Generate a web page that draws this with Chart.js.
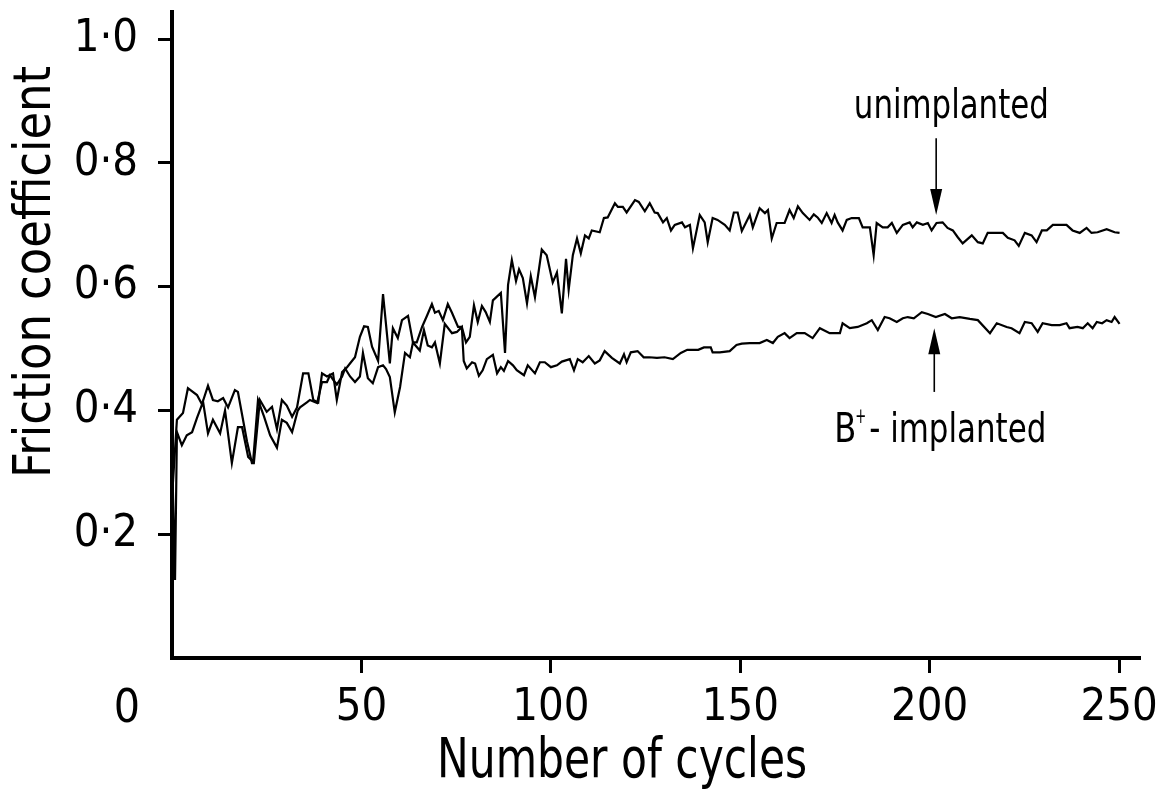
<!DOCTYPE html>
<html><head><meta charset="utf-8">
<script src="https://cdn.jsdelivr.net/npm/chart.js@4.4.1/dist/chart.umd.min.js"></script>
<style>html,body{margin:0;padding:0;background:#fff;overflow:hidden}canvas{display:block}</style>
</head><body>
<canvas id="c" width="1166" height="792" style="width:1166px;height:792px"></canvas>
<script>
// ---------- data ----------
const cyclesU = [0,1.3,2.9,4.2,6.6,7.9,9.5,10.8,12.1,13.5,14.8,16.6,17.4,19.8,21.1,21.6,23.2,25.0,26.4,27.7,29.0,30.3,31.7,33.0,34.6,36.0,37.3,38.6,39.6,40.9,42.5,43.5,44.9,46.2,47.5,48.3,49.6,50.7,51.7,52.8,54.4,55.7,57.5,58.3,59.6,60.7,62.3,63.6,64.6,66.0,67.3,68.6,69.4,70.4,71.5,72.8,73.9,75.5,76.5,77.6,78.6,79.7,80.7,81.8,82.8,83.9,84.7,86.8,87.9,88.7,89.7,90.8,91.6,92.6,93.7,94.7,95.8,97.6,98.9,100.5,101.6,102.9,104.0,104.7,105.8,106.9,107.9,109.0,110.0,110.8,112.9,114.0,115.0,116.9,117.7,119.0,120.0,122.2,123.2,124.8,126.1,127.4,128.2,129.6,130.6,131.7,132.7,134.6,135.4,136.7,137.5,139.3,140.6,141.4,142.7,144.0,145.9,147.2,148.3,149.3,150.4,152.5,153.3,155.1,156.5,157.3,158.3,159.6,161.7,163.0,164.1,165.2,166.5,168.3,169.4,170.4,171.5,172.8,174.1,174.9,175.7,177.0,178.1,179.4,181.3,182.3,184.2,185.2,186.0,187.6,188.9,190.0,191.3,192.9,194.7,195.5,196.6,198.2,199.5,200.5,201.8,203.4,204.7,206.1,207.4,208.7,211.1,212.7,214.0,215.3,217.7,219.3,220.6,222.4,223.5,225.1,226.9,228.2,229.6,230.9,232.5,236.1,237.7,239.6,241.4,242.7,244.3,246.7,248.8,250.1];
const frictionU = [0.26,0.385,0.396,0.436,0.425,0.41,0.44,0.417,0.415,0.42,0.405,0.433,0.43,0.35,0.315,0.315,0.417,0.398,0.406,0.37,0.417,0.408,0.39,0.405,0.46,0.46,0.417,0.413,0.46,0.455,0.46,0.417,0.462,0.47,0.48,0.486,0.519,0.536,0.535,0.503,0.48,0.588,0.476,0.533,0.517,0.546,0.553,0.51,0.51,0.535,0.553,0.572,0.558,0.561,0.546,0.572,0.558,0.535,0.535,0.51,0.519,0.57,0.543,0.569,0.559,0.543,0.578,0.59,0.493,0.603,0.643,0.609,0.628,0.614,0.573,0.617,0.583,0.66,0.651,0.607,0.623,0.557,0.645,0.595,0.651,0.678,0.654,0.683,0.678,0.691,0.688,0.711,0.712,0.735,0.729,0.729,0.72,0.74,0.737,0.722,0.735,0.72,0.719,0.704,0.711,0.691,0.70,0.704,0.696,0.70,0.662,0.716,0.704,0.672,0.711,0.708,0.70,0.691,0.72,0.72,0.69,0.716,0.696,0.727,0.719,0.724,0.678,0.703,0.703,0.724,0.711,0.73,0.719,0.708,0.717,0.712,0.703,0.719,0.703,0.716,0.704,0.691,0.708,0.711,0.711,0.696,0.696,0.651,0.703,0.696,0.696,0.703,0.687,0.70,0.704,0.696,0.704,0.70,0.703,0.691,0.703,0.704,0.695,0.691,0.68,0.67,0.683,0.672,0.67,0.687,0.687,0.687,0.679,0.675,0.666,0.687,0.683,0.672,0.691,0.691,0.70,0.70,0.691,0.687,0.695,0.687,0.688,0.693,0.688,0.687];
const cyclesB = [0,0.8,1.3,2.6,3.9,5.3,6.6,8.2,9.5,10.8,12.7,14.0,15.8,17.4,18.5,20.1,21.4,22.7,24.3,25.9,27.7,29.0,30.3,31.7,33.2,33.8,35.6,36.4,38.3,39.6,40.9,41.7,42.5,43.5,44.9,45.7,47.0,48.3,49.6,50.4,51.7,53.0,54.4,55.7,56.5,57.5,58.8,60.2,61.5,62.8,63.6,65.4,66.5,67.5,68.6,69.4,70.7,72.0,73.9,75.2,76.5,77.0,77.8,79.2,80.0,81.0,82.0,83.1,84.7,85.8,86.8,87.6,88.7,90.0,91.0,92.9,93.9,95.8,97.1,98.4,100.0,101.6,102.9,105.0,106.1,107.1,108.4,110.0,111.6,112.9,114.2,116.1,118.2,119.3,120.0,121.1,122.9,124.5,126.0,128.0,130.0,132.2,134.3,136.0,138.9,140.4,142.2,142.7,144.6,147.2,149.0,150.4,152.5,155.1,157.0,158.6,159.9,161.7,163.0,164.9,167.0,169.1,171.0,173.6,176.3,177.0,178.9,181.0,183.4,184.7,186.3,188.1,189.4,191.3,192.9,194.2,195.8,197.9,199.5,201.6,204.0,205.8,207.9,210.6,212.7,215.9,217.7,220.3,221.6,223.7,225.1,226.9,228.5,229.8,232.2,234.3,236.1,236.9,239.0,240.4,241.7,243.0,244.1,245.5,246.7,248.0,248.8,250.1];
const frictionB = [0.33,0.126,0.365,0.344,0.36,0.365,0.388,0.414,0.363,0.385,0.363,0.40,0.315,0.373,0.373,0.325,0.317,0.417,0.39,0.36,0.34,0.385,0.38,0.365,0.40,0.405,0.413,0.417,0.412,0.446,0.446,0.457,0.45,0.442,0.455,0.468,0.455,0.446,0.455,0.493,0.452,0.444,0.47,0.473,0.467,0.454,0.397,0.438,0.493,0.486,0.51,0.497,0.53,0.505,0.502,0.51,0.476,0.54,0.525,0.527,0.535,0.48,0.468,0.478,0.476,0.456,0.465,0.483,0.49,0.46,0.47,0.464,0.48,0.473,0.465,0.457,0.473,0.46,0.478,0.478,0.47,0.473,0.479,0.483,0.465,0.483,0.478,0.488,0.476,0.481,0.496,0.485,0.476,0.491,0.478,0.494,0.496,0.486,0.486,0.485,0.486,0.483,0.493,0.498,0.498,0.502,0.502,0.494,0.494,0.496,0.506,0.508,0.509,0.509,0.514,0.509,0.519,0.525,0.517,0.525,0.525,0.517,0.533,0.525,0.525,0.541,0.533,0.535,0.541,0.546,0.53,0.551,0.549,0.543,0.549,0.551,0.549,0.559,0.556,0.551,0.556,0.549,0.551,0.548,0.546,0.525,0.541,0.535,0.533,0.525,0.543,0.541,0.527,0.541,0.538,0.538,0.541,0.533,0.535,0.533,0.541,0.533,0.543,0.541,0.546,0.543,0.551,0.54];
const xTicks = [50,100,150,200,250];
const yTicks = [0.2,0.4,0.6,0.8,1.0];
const yTickLabels = ['0·2','0·4','0·6','0·8','1·0'];
const xTitle = 'Number of cycles';
const yTitle = 'Friction coefficient';
const seriesNames = ['unimplanted','B⁺- implanted'];

// ---------- font choice ----------
function pickFont(cands){
  const c=document.createElement('canvas').getContext('2d');
  const t='Number of cycles 0123456789 unimplanted';
  c.font='40px monospace'; const w0=c.measureText(t).width;
  for(const f of cands){
    c.font='40px "'+f+'", monospace';
    if(Math.abs(c.measureText(t).width-w0)>0.5) return f;
  }
  return 'sans-serif';
}
const FONT = pickFont(['Liberation Sans Narrow','DejaVu Sans Condensed','Liberation Sans','DejaVu Sans']);

const pts = (xs,ys)=>xs.map((v,i)=>({x:v,y:ys[i]}));

// text squeezed horizontally to a given width (the figure uses a narrow DIN-like face)
function fitText(ctx, str, x, y, size, width, align, rot){
  ctx.save();
  ctx.font = size+'px "'+FONT+'"';
  const w = ctx.measureText(str).width;
  ctx.translate(x,y);
  if(rot) ctx.rotate(rot);
  ctx.scale(width/w,1);
  ctx.textAlign=align; 
  ctx.fillText(str,0,0);
  ctx.restore();
  return width;
}

const overlay = {
  id:'overlay',
  afterDraw(chart){
    const {ctx, scales:{x,y}} = chart;
    ctx.save();
    ctx.fillStyle='#000'; ctx.strokeStyle='#000';
    ctx.textBaseline='middle';
    // "0" label on the x axis (left of the corner, as in the figure)
    ctx.font='46px "'+FONT+'"'; ctx.textAlign='center';
    ctx.fillText('0', x.getPixelForValue(0)-45, y.getPixelForValue(0)+52);
    // axis titles
    fitText(ctx, xTitle, x.getPixelForValue(118.8), y.getPixelForValue(0)+104, 56, 370, 'center');
    fitText(ctx, yTitle, 36, y.getPixelForValue(0.624), 52, 412, 'center', -Math.PI/2);
    // arrows
    function arrow(c, v0, v1){
      const px=x.getPixelForValue(c), y0=y.getPixelForValue(v0), y1=y.getPixelForValue(v1);
      const dir = Math.sign(y1-y0);
      ctx.lineWidth=1.6;
      ctx.beginPath(); ctx.moveTo(px,y0); ctx.lineTo(px,y1-dir*20); ctx.stroke();
      ctx.beginPath(); ctx.moveTo(px,y1); ctx.lineTo(px-6,y1-dir*26); ctx.lineTo(px+6,y1-dir*26); ctx.closePath(); ctx.fill();
    }
    arrow(201.7, 0.84, 0.716);
    arrow(201.2, 0.43, 0.533);
    // labels
    ctx.textBaseline='alphabetic';
    fitText(ctx, seriesNames[0], x.getPixelForValue(205.7), y.getPixelForValue(0.872), 40, 195, 'center');
    const bx = x.getPixelForValue(174.8), by = y.getPixelForValue(0.349);
    fitText(ctx, 'B', bx, by, 40, 22, 'left');
    fitText(ctx, '+', bx+21, by-19, 22, 11, 'left');
    fitText(ctx, '- implanted', bx+35, by, 40, 177, 'left');
    ctx.restore();
  }
};

new Chart(document.getElementById('c'), {
  type:'line',
  data:{datasets:[
    {label:seriesNames[0], data:pts(cyclesU,frictionU), borderColor:'#000', borderWidth:2.2, pointRadius:0, tension:0, fill:false},
    {label:seriesNames[1], data:pts(cyclesB,frictionB), borderColor:'#000', borderWidth:2.2, pointRadius:0, tension:0, fill:false}
  ]},
  options:{
    responsive:false, animation:false, devicePixelRatio:1,
    layout:{padding:{top:12,right:26,left:0,bottom:0}},
    plugins:{legend:{display:false}, tooltip:{enabled:false}},
    scales:{
      x:{type:'linear', min:0, max:255.5,
        afterBuildTicks:s=>{s.ticks=xTicks.map(v=>({value:v}));},
        afterFit:s=>{s.height=134; s.paddingLeft=0; s.paddingRight=0;},
        grid:{drawOnChartArea:false, drawTicks:true, tickLength:15, tickWidth:3, tickColor:'#000'},
        border:{display:true, color:'#000', width:4},
        ticks:{color:'#000', padding:8, maxRotation:0, autoSkip:false, font:{family:FONT, size:45}, callback:v=>String(v)}
      },
      y:{type:'linear', min:0, max:1.044,
        afterBuildTicks:s=>{s.ticks=yTicks.map(v=>({value:v}));},
        afterFit:s=>{s.width=172; s.paddingTop=0; s.paddingBottom=0;},
        grid:{drawOnChartArea:false, drawTicks:true, tickLength:14, tickWidth:3, tickColor:'#000'},
        border:{display:true, color:'#000', width:4},
        ticks:{color:'#000', padding:20, autoSkip:false, font:{family:FONT, size:45},
          callback:v=>{const i=yTicks.findIndex(t=>Math.abs(t-v)<1e-6); return i>=0?yTickLabels[i]:'';}}
      }
    }
  },
  plugins:[overlay]
});
</script>
</body></html>
